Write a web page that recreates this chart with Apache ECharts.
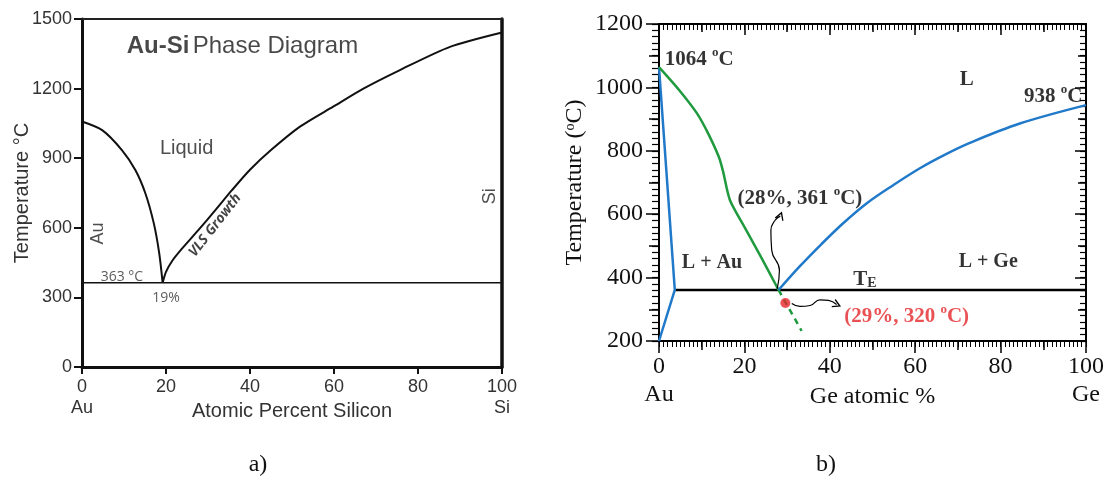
<!DOCTYPE html>
<html>
<head>
<meta charset="utf-8">
<script src="https://cdn.jsdelivr.net/npm/echarts@6/dist/echarts.min.js"></script>
<style>
  html, body { margin: 0; padding: 0; background: #fff; }
  #chart { width: 1112px; height: 486px; }
</style>
</head>
<body>
<div id="chart"></div>
<script>
// ---- panel a : Au-Si ----
const xTicksA = ['0\nAu', '20', '40', '60', '80', '100\nSi']
const auLiquidusA = [[0, 1058], [4.8, 1021], [9.5, 935], [12.7, 849], [15.1, 748], [17.1, 619], [18.4, 489], [19.2, 363]]
const siLiquidusA = [[19.2, 363], [20, 410], [21.5, 458], [23.8, 510], [27.8, 592], [31.7, 675], [35.7, 762], [40, 850], [45, 935],
  [51.9, 1036], [59.8, 1122], [67, 1200], [75.7, 1280], [87.6, 1380], [100, 1442]]
const eutecticA = [[0, 363], [100, 363]]

// ---- panel b : Au-Ge ----
const xTicksB = ['0\nAu', '20', '40', '60', '80', '100\nGe']
const auSolidusB = [[0, 1064], [3.7, 361], [0, 200]]
const auLiquidusB = [[0, 1064], [4.7, 992], [8.9, 918], [11.5, 855], [14, 781], [15, 735], [16.6, 645], [20, 560], [24, 462], [28, 361]]
const auLiquidusExtB = [[28, 361], [33.4, 232]]
const geLiquidusB = [[28, 361], [33, 436], [38, 505], [43, 570], [48.6, 634], [55, 693], [61.1, 745], [67, 788], [72.8, 825], [84.5, 886], [100, 944]]
const eutecticB = [[3.7, 361], [100, 361]]
const redPointB = [[29.6, 320]]
const arrowUpB = [[27.7, 365], [28.2, 423], [26.4, 486], [26.2, 549], [27.2, 581], [28.4, 594]]
const arrowRightB = [[31.1, 318], [33, 309], [35.4, 312], [37.7, 330], [39.7, 328], [41.6, 315]]

const SANS = 'Liberation Sans, Arial, sans-serif'
const OPEN = 'Open Sans, Liberation Sans, sans-serif'
const SERIF = 'Liberation Serif, Times New Roman, serif'
const BLUE = '#2179c9'
const GREEN = '#1f9a3e'
const RED = '#e5252b'

const chart = echarts.init(document.getElementById('chart'), null, { renderer: 'canvas' })

function richB (color, size) {
  return {
    n: { fontFamily: SERIF, fontWeight: 'bold', fontSize: size, color: color, verticalAlign: 'bottom', lineHeight: 24 },
    sup: { fontFamily: SERIF, fontWeight: 'bold', fontSize: 13, color: color, verticalAlign: 'top', lineHeight: 14 },
    sub: { fontFamily: SERIF, fontWeight: 'bold', fontSize: 14, color: color, verticalAlign: 'bottom', lineHeight: 14 }
  }
}

function txt (x, y, formatter, label) {
  return { value: [x, y], label: Object.assign({ show: true, position: 'inside', formatter: formatter }, label) }
}

function arrowData (pts, rot) {
  return pts.map((p, i) => {
    if (i < pts.length - 1) return p
    return {
      value: p,
      symbol: 'path://M0,10 L5,0 L10,10',
      symbolSize: [8, 7],
      symbolRotate: rot,
      itemStyle: { color: 'none', borderColor: '#000', borderWidth: 1.3 }
    }
  })
}

function line (xi, yi, data, color, width, extra) {
  return Object.assign({
    type: 'line', xAxisIndex: xi, yAxisIndex: yi, data: data, symbol: 'none',
    lineStyle: { color: color, width: width }, silent: true, z: 3
  }, extra)
}

// extra tick-only axis for panel b (medium / minor tick levels)
// the axis line has to stay "shown" (transparent) or v6 drops the ticks too
function tickAxis (pos, min, max, interval, len, inside, width) {
  return {
    gridIndex: 1, type: 'value', position: pos, min: min, max: max, interval: interval,
    axisLine: { show: true, onZero: false, lineStyle: { color: '#000', width: 2, opacity: 0 } },
    axisTick: { show: true, inside: inside, length: len, lineStyle: { color: '#000', width: width } },
    axisLabel: { show: false }, splitLine: { show: false }
  }
}

const noSplit = { show: false }

const option = {
  animation: false,
  grid: [
    { left: 82, top: 19, width: 420, height: 348, outerBoundsMode: 'none', containLabel: false },
    { left: 659, top: 24, width: 427, height: 317, outerBoundsMode: 'none', containLabel: false }
  ],
  xAxis: [
    {
      gridIndex: 0, type: 'value', position: 'bottom', min: 0, max: 100, interval: 20,
      axisLine: { show: true, onZero: false, lineStyle: { color: '#111', width: 3 } },
      axisTick: { show: true, length: 7, lineStyle: { color: '#111', width: 2 } },
      axisLabel: {
        fontFamily: SANS, fontSize: 18, color: '#333', margin: 10, lineHeight: 21,
        formatter: v => xTicksA[Math.round(v / 20)]
      },
      splitLine: noSplit,
      name: 'Atomic Percent Silicon', nameLocation: 'middle', nameGap: 34, nameMoveOverlap: false,
      nameTextStyle: { fontFamily: SANS, fontSize: 20, color: '#333' }
    },
    {
      gridIndex: 0, type: 'value', position: 'top', min: 0, max: 100,
      axisLine: { show: true, onZero: false, lineStyle: { color: '#222', width: 2 } },
      axisTick: { show: false }, axisLabel: { show: false }, splitLine: noSplit
    },
    {
      gridIndex: 1, type: 'value', position: 'bottom', min: 0, max: 100, interval: 20,
      axisLine: { show: true, onZero: false, lineStyle: { color: '#000', width: 2 } },
      axisTick: { show: true, length: 12, lineStyle: { color: '#000', width: 1.5 } },
      axisLabel: {
        fontFamily: SERIF, fontSize: 24, color: '#111', margin: 12, lineHeight: 28,
        formatter: v => xTicksB[Math.round(v / 20)]
      },
      splitLine: noSplit,
      name: 'Ge atomic %', nameLocation: 'middle', nameGap: 44, nameMoveOverlap: false,
      nameTextStyle: { fontFamily: SERIF, fontSize: 24, color: '#111' }
    },
    tickAxis('bottom', 0, 100, 10, 9, false, 1.5),
    tickAxis('bottom', 0, 100, 1, 6, false, 1),
    {
      gridIndex: 1, type: 'value', position: 'top', min: 0, max: 100, interval: 20,
      axisLine: { show: true, onZero: false, lineStyle: { color: '#000', width: 2 } },
      axisTick: { show: true, inside: true, length: 11, lineStyle: { color: '#000', width: 1.5 } },
      axisLabel: { show: false }, splitLine: noSplit
    },
    tickAxis('top', 0, 100, 10, 8, true, 1.5),
    tickAxis('top', 0, 100, 1, 6, true, 1)
  ],
  yAxis: [
    {
      gridIndex: 0, type: 'value', position: 'left', min: 0, max: 1500, interval: 300,
      axisLine: { show: true, onZero: false, lineStyle: { color: '#111', width: 3 } },
      axisTick: { show: true, length: 8, lineStyle: { color: '#111', width: 2 } },
      axisLabel: { fontFamily: SANS, fontSize: 18, color: '#333', margin: 10, formatter: v => String(v) },
      splitLine: noSplit,
      name: 'Temperature °C', nameLocation: 'middle', nameGap: 50, nameRotate: 90, nameMoveOverlap: false,
      nameTextStyle: { fontFamily: SANS, fontSize: 20, color: '#333' }
    },
    {
      gridIndex: 0, type: 'value', position: 'right', min: 0, max: 1500,
      axisLine: { show: true, onZero: false, lineStyle: { color: '#111', width: 3.5 } },
      axisTick: { show: false }, axisLabel: { show: false }, splitLine: noSplit
    },
    {
      gridIndex: 1, type: 'value', position: 'left', min: 200, max: 1200, interval: 200,
      axisLine: { show: true, onZero: false, lineStyle: { color: '#000', width: 2 } },
      axisTick: { show: true, length: 13, lineStyle: { color: '#000', width: 1.5 } },
      axisLabel: { fontFamily: SERIF, fontSize: 24, color: '#111', margin: 16, formatter: v => String(v) },
      splitLine: noSplit,
      name: 'Temperature ({sup|o}C)', nameLocation: 'middle', nameGap: 72, nameRotate: 90, nameMoveOverlap: false,
      nameTextStyle: {
        fontFamily: SERIF, fontSize: 24, color: '#111',
        rich: { sup: { fontFamily: SERIF, fontSize: 14, color: '#111', verticalAlign: 'top', lineHeight: 14 } }
      }
    },
    tickAxis('left', 200, 1200, 100, 10, false, 1.5),
    tickAxis('left', 200, 1200, 20, 7, false, 1.2),
    {
      gridIndex: 1, type: 'value', position: 'right', min: 200, max: 1200, interval: 200,
      axisLine: { show: true, onZero: false, lineStyle: { color: '#000', width: 2 } },
      axisTick: { show: true, inside: true, length: 11, lineStyle: { color: '#000', width: 1.5 } },
      axisLabel: { show: false }, splitLine: noSplit
    },
    tickAxis('right', 200, 1200, 100, 8, true, 1.5),
    tickAxis('right', 200, 1200, 20, 6, true, 1.2)
  ],
  series: [
    // panel a
    line(0, 0, auLiquidusA, '#111', 2, { smooth: 0.25 }),
    line(0, 0, siLiquidusA, '#111', 2, { smooth: 0.25 }),
    line(0, 0, eutecticA, '#111', 1.5),
    {
      type: 'scatter', xAxisIndex: 0, yAxisIndex: 0, symbolSize: 0, silent: true, z: 5,
      data: [
        txt(38.2, 1380, '{b|Au-Si} {r|Phase Diagram}', {
          rich: {
            b: { fontFamily: SANS, fontWeight: 'bold', fontSize: 24, color: '#1a1a1a' },
            r: { fontFamily: SANS, fontSize: 24, color: '#1a1a1a' }
          }
        }),
        txt(24.9, 943, 'Liquid', { fontFamily: SANS, fontSize: 20, color: '#222' }),
        txt(31.7, 611, 'VLS Growth', { fontFamily: OPEN, fontSize: 14, fontWeight: 'bold', fontStyle: 'italic', color: '#111', rotate: 52 }),
        txt(3.7, 575, 'Au', { fontFamily: SANS, fontSize: 18, color: '#222', rotate: 90 }),
        txt(97.1, 736, 'Si', { fontFamily: SANS, fontSize: 18, color: '#222', rotate: 90 }),
        txt(9.5, 388, '363 °C', { fontFamily: OPEN, fontSize: 14, color: '#333' }),
        txt(20, 296, '19%', { fontFamily: OPEN, fontSize: 14, color: '#333' })
      ]
    },
    // panel b
    line(2, 2, eutecticB, '#000', 2.5),
    line(2, 2, auSolidusB, BLUE, 2.5),
    line(2, 2, auLiquidusB, GREEN, 2.5, { smooth: 0.25 }),
    line(2, 2, auLiquidusExtB, GREEN, 2.5, { lineStyle: { color: GREEN, width: 2.5, type: [6, 5] } }),
    line(2, 2, geLiquidusB, BLUE, 2.5, { smooth: 0.35 }),
    line(2, 2, arrowData(arrowUpB, -20), '#000', 1.2, { smooth: 0.5, showSymbol: true, z: 4 }),
    line(2, 2, arrowData(arrowRightB, -115), '#000', 1.2, { smooth: 0.5, showSymbol: true, z: 4 }),
    {
      type: 'scatter', xAxisIndex: 2, yAxisIndex: 2, data: redPointB, symbolSize: 10, silent: true, z: 6,
      itemStyle: { color: RED }
    },
    {
      type: 'scatter', xAxisIndex: 2, yAxisIndex: 2, symbolSize: 0, silent: true, z: 5,
      data: [
        txt(9.4, 1093, '{n|1064 }{sup|o}{n|C}', { rich: richB('#000', 21) }),
        txt(72.1, 1029, '{n|L}', { rich: richB('#000', 21) }),
        txt(92.3, 977, '{n|938 }{sup|o}{n|C}', { rich: richB('#000', 21) }),
        txt(33.0, 655, '{n|(28%, 361 }{sup|o}{n|C)}', { rich: richB('#000', 21) }),
        txt(12.4, 454, '{n|L + Au}', { rich: richB('#000', 20) }),
        txt(77.1, 455, '{n|L + Ge}', { rich: richB('#000', 20) }),
        txt(48.2, 398, '{n|T}{sub|E}', { rich: richB('#000', 21) }),
        txt(58.0, 281, '{n|(29%, 320 }{sup|o}{n|C)}', { rich: richB(RED, 21) })
      ]
    }
  ],
  graphic: [
    { type: 'text', x: 258, y: 465, style: { text: 'a)', font: '24px Liberation Serif', fill: '#111', textAlign: 'center', textVerticalAlign: 'middle', align: 'center', verticalAlign: 'middle' } },
    { type: 'text', x: 826, y: 465, style: { text: 'b)', font: '24px Liberation Serif', fill: '#111', textAlign: 'center', textVerticalAlign: 'middle', align: 'center', verticalAlign: 'middle' } }
  ]
}

chart.setOption(option)
</script>
</body>
</html>
